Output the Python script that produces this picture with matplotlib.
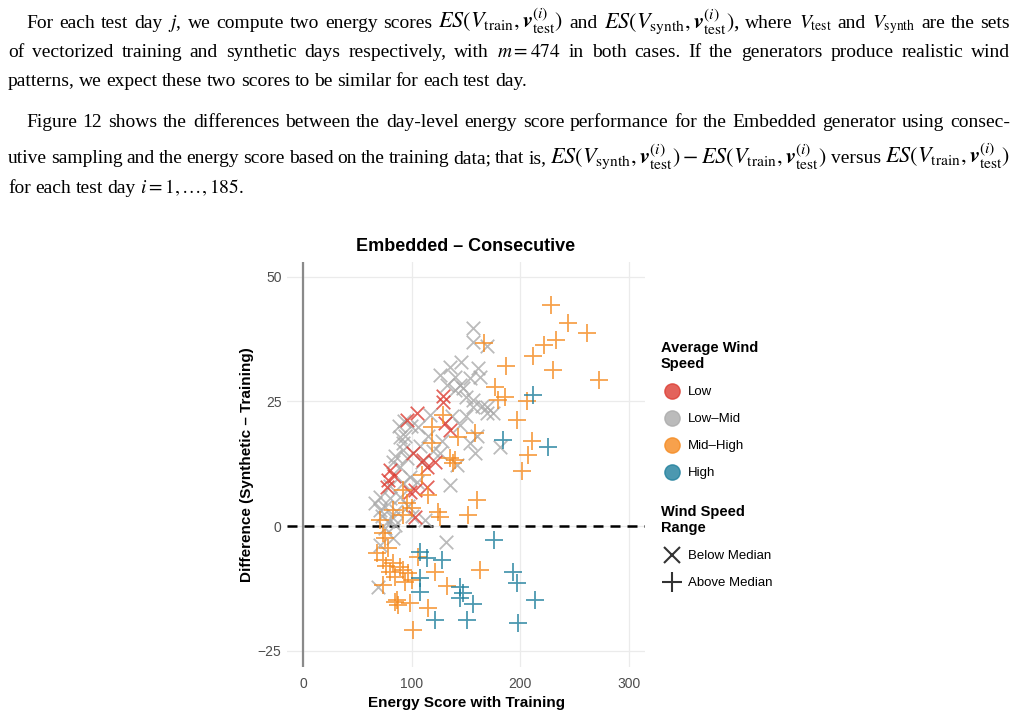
import matplotlib
matplotlib.use('Agg')
import matplotlib.pyplot as plt
from matplotlib.lines import Line2D
import pandas as pd

plt.rcParams['mathtext.fontset'] = 'stix'

# ---- data ----
low_x = [128.8, 128.8, 130.6, 135.2, 104.9, 95.7, 101.2, 110.4, 121.4, 114.1,
         80.0, 78.2, 77.3, 98.4, 103.0, 114.1, 103.0, 84.0]
low_y = [26.1, 24.9, 20.7, 19.3, 22.7, 21.3, 14.7, 13.3, 12.9, 11.8,
         11.2, 9.2, 7.8, 6.8, 7.2, 7.8, 1.8, 10.0]

lowmid_x = [156.4, 156.4, 169.3, 126.0, 132.5, 161.0, 153.6, 162.8, 144.4, 139.8,
            147.2, 156.4, 156.4, 169.3, 174.8, 116.8, 105.8, 144.4, 153.6, 158.2,
            181.2, 126.0, 109.5, 141.7, 92.0, 89.2, 92.0, 95.7, 82.8, 135.2,
            89.2, 92.0, 98.4, 104.9, 89.2, 80.0, 70.8, 66.2, 70.8, 75.4,
            112.2, 82.8, 75.4, 84.6, 70.8, 82.8, 131.6, 69.0, 85.0, 88.0,
            93.0, 80.0, 86.0, 97.0, 100.0, 78.0, 73.0, 94.0, 99.0, 120.0,
            115.0, 128.0, 137.0, 150.0, 160.0, 165.0, 145.0, 140.0, 135.0, 150.0,
            169.3, 108.0]
lowmid_y = [39.8, 36.9, 36.1, 30.3, 28.3, 31.7, 29.7, 29.9, 28.3, 27.3,
            27.7, 25.3, 23.9, 23.9, 22.7, 22.3, 19.9, 20.3, 16.7, 14.7,
            15.9, 14.7, 12.9, 12.2, 16.7, 17.9, 15.3, 13.7, 12.9, 8.2,
            11.8, 8.6, 9.8, 8.8, 5.8, 5.6, 5.8, 4.6, 3.2, 3.8,
            1.2, 1.6, -0.4, 0.2, -3.8, -2.4, -3.2, -12.2, 14.0, 20.0,
            21.0, 8.0, 3.0, 4.0, 2.0, 1.0, 2.0, 18.0, 20.0, 15.0,
            18.0, 17.0, 22.0, 22.0, 18.0, 24.0, 33.0, 30.0, 32.0, 26.0,
            22.7, 16.0]

midhigh_x = [228.2, 243.8, 261.3, 232.8, 221.7, 211.6, 230.0, 272.3, 186.8, 166.5,
             176.6, 185.8, 179.4, 206.1, 196.9, 210.7, 207.0, 201.5, 128.8, 118.7,
             142.6, 158.2, 118.7, 135.2, 139.8, 138.0, 109.5, 115.0, 92.0, 124.2,
             126.0, 151.8, 160.1, 82.8, 95.7, 100.3, 92.0, 70.8, 73.6, 68.0,
             78.2, 73.6, 82.8, 89.2, 92.0, 80.0, 84.6, 96.6, 100.3, 93.8,
             73.6, 84.6, 86.5, 87.4, 98.4, 115.0, 101.2, 105.8, 121.4, 162.8,
             132.5, 75.0, 76.0]
midhigh_y = [44.4, 40.8, 38.8, 37.3, 36.3, 34.1, 31.3, 29.3, 32.1, 36.7,
             27.9, 25.9, 25.3, 25.1, 21.3, 17.1, 14.3, 11.0, 22.3, 19.9,
             17.9, 18.7, 16.7, 13.7, 13.3, 12.7, 10.2, 6.2, 7.2, 2.8,
             1.8, 2.2, 5.2, 3.2, 4.6, 3.6, 2.2, 1.2, -1.4, -5.4,
             -4.4, -6.8, -7.4, -8.2, -8.8, -9.2, -10.2, -9.4, -10.8, -11.2,
             -11.8, -15.3, -14.9, -15.9, -15.5, -16.5, -20.9, -6.2, -9.2, -8.8,
             -12.0, -2.5, -8.0]

high_x = [211.6, 184.0, 225.4, 175.7, 107.6, 114.1, 127.9, 193.2, 196.9, 107.6,
          144.4, 107.6, 144.4, 156.4, 213.4, 121.4, 150.9, 197.8, 147.2]
high_y = [26.3, 17.3, 15.9, -2.8, -5.2, -6.4, -6.8, -9.2, -11.4, -10.4,
          -12.2, -13.3, -14.5, -15.7, -14.9, -18.9, -18.9, -19.5, -13.5]

speed_levels = ['Low', 'Low\u2013Mid', 'Mid\u2013High', 'High']
range_levels = ['Below Median', 'Above Median']

df = pd.concat([
    pd.DataFrame({'es': low_x, 'diff': low_y, 'speed': 'Low', 'range': 'Below Median'}),
    pd.DataFrame({'es': lowmid_x, 'diff': lowmid_y, 'speed': 'Low\u2013Mid', 'range': 'Below Median'}),
    pd.DataFrame({'es': midhigh_x, 'diff': midhigh_y, 'speed': 'Mid\u2013High', 'range': 'Above Median'}),
    pd.DataFrame({'es': high_x, 'diff': high_y, 'speed': 'High', 'range': 'Above Median'}),
])

colors = {'Low': '#dc3c32', 'Low\u2013Mid': '#aaaaaa', 'Mid\u2013High': '#f58a1f', 'High': '#1f7f9c'}
markers = {'Below Median': 'x', 'Above Median': '+'}
sizes = {'Below Median': 95, 'Above Median': 170}

fig = plt.figure(figsize=(10.16, 7.17), dpi=100)

# page axes in pixel units for the paper text
page = fig.add_axes([0, 0, 1, 1])
page.set_xlim(0, 1016)
page.set_ylim(717, 0)
page.axis('off')
renderer = fig.canvas.get_renderer()

ES_train = r'$ES(V_{\mathrm{train}},\boldsymbol{v}^{(i)}_{\mathrm{test}})$'
ES_synth = r'$ES(V_{\mathrm{synth}},\boldsymbol{v}^{(i)}_{\mathrm{test}})$'
TXT = 14
MATH = 16


def put_line(words, x0, x1, y, justify=True):
    arts = []
    for w in words:
        size = MATH if w.startswith('$ES') else TXT
        arts.append(page.text(0, y, w, fontsize=size, family='Liberation Serif', va='baseline'))
    widths = [a.get_window_extent(renderer).width for a in arts]
    gap = (x1 - x0 - sum(widths)) / (len(words) - 1) if justify else 4.5
    x = x0
    for a, w in zip(arts, widths):
        a.set_x(x)
        x += w + gap


put_line(('For each test day $j$, we compute two energy scores ' + ES_train + ' and '
          + ES_synth + r', where $V_{\mathrm{test}}$ and $V_{\mathrm{synth}}$ are the sets').split(' '),
         26, 1010, 28)
put_line('of vectorized training and synthetic days respectively, with $m=474$ in both cases. '
         'If the generators produce realistic wind'.split(' '), 8, 1010, 57)
put_line('patterns, we expect these two scores to be similar for each test day.'.split(' '),
         8, 1010, 86, justify=False)
put_line('Figure 12 shows the differences between the day-level energy score performance for '
         'the Embedded generator using consec-'.split(' '), 26, 1010, 127)
put_line(('utive sampling and the energy score based on the training data; that is, '
          + ES_synth[:-1] + '-' + ES_train[1:] + ' versus ' + ES_train).split(' '),
         8, 1010, 163)
put_line(r'for each test day $i=1,\ldots,185$.'.split(' '), 8, 1010, 193, justify=False)

# ---- chart ----
ax = fig.add_axes([287 / 1016, 1 - 667 / 717, 358 / 1016, 405 / 717])
ax.set_xlim(-14.7, 314.6)
ax.set_ylim(-28.3, 53.0)
ax.set_xticks([0, 100, 200, 300])
ax.set_yticks([-25, 0, 25, 50])
ax.set_yticklabels(['\u221225', '0', '25', '50'])
ax.grid(True, color='#ebebeb', lw=0.9)
ax.set_axisbelow(True)
for s in ax.spines.values():
    s.set_visible(False)
ax.tick_params(length=0, labelsize=10, labelcolor='#4d4d4d', pad=4)
ax.tick_params(axis='x', pad=7.5)
for lab in ax.get_xticklabels() + ax.get_yticklabels():
    lab.set_family('Liberation Sans')

ax.axvline(0, color='#8a8a8a', lw=1.6, zorder=1)
ax.axhline(0, color='black', lw=1.8, ls=(0, (4, 2.8)), zorder=1)

for sp in ['Low\u2013Mid', 'Low', 'Mid\u2013High', 'High']:
    d = df[df['speed'] == sp]
    for rg in range_levels:
        dd = d[d['range'] == rg]
        if len(dd):
            ax.scatter(dd['es'], dd['diff'], marker=markers[rg], s=sizes[rg],
                       c=colors[sp], alpha=0.8, linewidths=1.3, zorder=2)

ax.set_title('Embedded \u2013 Consecutive', fontsize=13, fontweight='bold',
             family='Liberation Sans', pad=8)
ax.set_xlabel('Energy Score with Training', fontsize=11, fontweight='bold',
              family='Liberation Sans', labelpad=3)
ax.set_ylabel('Difference (Synthetic \u2013 Training)', fontsize=11, fontweight='bold',
              family='Liberation Sans', labelpad=3)

# ---- legends ----
h1 = [Line2D([], [], ls='none', marker='o', ms=11, color=colors[sp], alpha=0.8)
      for sp in speed_levels]
leg1 = ax.legend(h1, speed_levels, title='Average Wind\nSpeed', loc='upper left',
                 bbox_to_anchor=(661 / 1016, 1 - 341 / 717), bbox_transform=fig.transFigure,
                 frameon=False, borderpad=0, borderaxespad=0, handlelength=1.67,
                 handletextpad=0.4, labelspacing=1.12, alignment='left',
                 prop={'family': 'Liberation Sans', 'size': 9.5},
                 title_fontproperties={'family': 'Liberation Sans', 'size': 10.5, 'weight': 'bold'})
ax.add_artist(leg1)
h2 = [Line2D([], [], ls='none', marker=markers[rg], ms=11 if rg == 'Below Median' else 15,
             mew=1.5, color='#333333') for rg in range_levels]
ax.legend(h2, range_levels, title='Wind Speed\nRange', loc='upper left',
          bbox_to_anchor=(661 / 1016, 1 - 505 / 717), bbox_transform=fig.transFigure,
          frameon=False, borderpad=0, borderaxespad=0, handlelength=1.67,
          handletextpad=0.4, labelspacing=1.12, alignment='left',
          prop={'family': 'Liberation Sans', 'size': 9.5},
          title_fontproperties={'family': 'Liberation Sans', 'size': 10.5, 'weight': 'bold'})

fig.savefig('out.png', dpi=100)
